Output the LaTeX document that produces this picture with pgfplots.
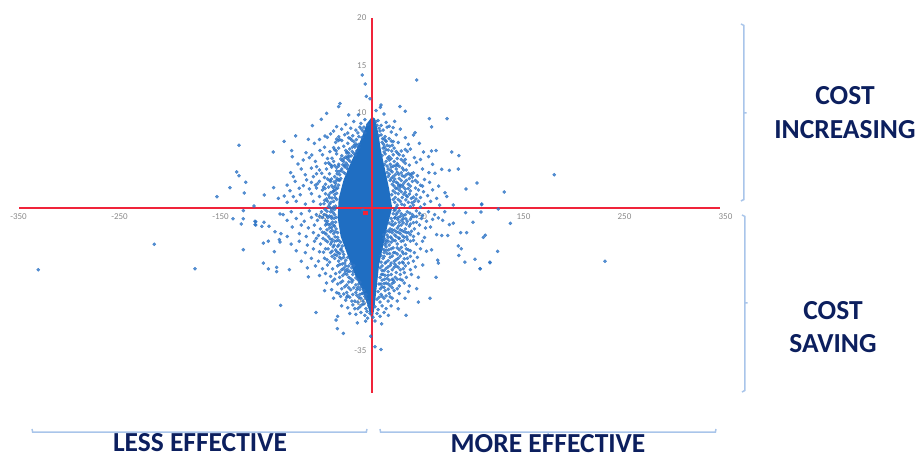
\documentclass[border=0pt]{standalone}
\usepackage{fontspec}
\setmainfont{Carlito}
\usepackage{pgfplots}
\pgfplotsset{compat=1.18}
\definecolor{dots}{HTML}{2F75C6}
\definecolor{core}{HTML}{1F6EC2}
\definecolor{brk}{HTML}{A9C5EA}
\definecolor{navy}{HTML}{0C1F5E}
\definecolor{redline}{HTML}{F0243A}
\definecolor{ticktxt}{HTML}{8A8A8A}
\begin{document}
\begin{tikzpicture}
\begin{axis}[
	name=ax,
	width=917pt, height=459pt, scale only axis,
	xmin=-368.3, xmax=539.6,
	ymin=-26.42, ymax=21.89,
	axis lines=center,
	axis line style={draw=none},
	tick style={draw=none},
	xtick={-350,-250,-150,-50,50,150,250,350},
	ytick={-15,-10,-5,5,10,15,20},
	yticklabels={-35,-25,-15,5,10,15,20},
	ticklabel style={font=\fontsize{9}{10}\selectfont, text=ticktxt},
	/pgf/number format/assume math mode=true,
	clip=false,
]
% solid centre of the cloud, where single points can't be told apart
\addplot[fill=core, draw=none] coordinates {
	(0,9.6)(3,9.4)(6,8)(9,6)(13,4)(17,2)(20,0)(15,-2)(11,-4)(7,-6)(5,-8)(3,-10)(1,-11.5)
	(-1,-11.5)(-5,-10)(-10,-8.5)(-17,-7)(-24,-5)(-31,-3)(-34,-1)(-33,1)(-28,3)(-20,5)(-11,7.2)(-5,8.9)
} -- cycle;
% single points
\addplot[only marks, mark=*, mark size=1.6pt, color=dots, mark options={draw=none, fill=dots, opacity=0.8}] coordinates {
	(-330.4,-6.5)(-215.5,-3.82)(-175.2,-6.39)(-131.7,6.6)(-134,3.79)(-131.7,3.4)(-125,2.7)(-140.6,2.14)(-126.4,1.58)(-153.5,1.19)
	(-116.8,0.21)(-127.4,-0.28)(-137.6,-1.13)(-127.4,-1.13)(-129.4,-1.68)(-115.1,-1.44)(-115.1,-1.79)(-127.4,-4.39)
	(180.5,3.5)(131,1.68)(108.6,0.35)(107.9,-0.42)(125,-0.1)(137,-1.61)(110.2,-3.09)(112.2,-2.87)(124.4,-4.56)(116.8,-5.76)(107.2,-6.39)(230.7,-5.61)
	(-9.6,14)(-6.6,13.05)(-5.6,11.75)(-2,11.5)(44.2,13.47)(8.9,10.84)(8.3,10.6)(-31.7,11)(-33,10.67)(27.7,10.67)(33,10.18)(4,10.25)
	(-44.9,9.96)(-23.1,9.79)(-13.5,9.79)(11.9,9.89)(-50.2,9.33)(56.8,9.4)(74.3,9.4)(22.4,9.12)(-59,8.67)(59,8.53)(-35,8.56)(-75.6,7.58)
	(21,8.46)(-87,7.02)(-63,7.23)(-46.5,7.58)(-44.2,7.44)(42.6,7.93)(41,7.68)(-97.7,5.89)(-79.5,6.04)(-78.9,5.4)(78.9,5.89)(86,5.5)
	(63.4,6.04)(59,6)(56,5.4)(-73.3,4.63)(-80.5,3.72)(-77.9,3.3)(-97.4,2.14)(-106.6,1.37)(-92.7,1.02)(-86.8,1.26)(-81.2,1.82)(-77.9,1.19)
	(-72,2.07)(-68,2.35)(-64.7,2.95)(-58,3.3)(-49.8,3.65)(-54.8,4.35)(-65.3,5.82)(-59.7,5.58)(-51.5,6.04)(-41.6,5.93)(-39.6,5.23)(-68,5.05)
	(76.6,3.96)(85.5,4.1)(69,4.07)(62.4,3.65)(56.4,3.72)(72.3,1.61)(93,2)(104,2.63)(108.6,0.42)(80.5,0.32)
	(-115.8,-1.4)(-115.8,-1.75)(-109,-1.93)(-107,-1.5)(-102,-1.93)(-91,-0.63)(-88,-0.7)(-96,-2.5)(-90.1,-2.7)(-102.6,-3.5)(-107.6,-3.7)
	(-91,-3.58)(-91.7,-3.33)(-96.7,-4.6)(-107.6,-5.8)(-102.6,-6.4)(-94.4,-6.25)(-94.4,-6.7)(-81.8,-6.5)(-63,-7.26)(-90.4,-10.25)(-55.4,-11)
	(-34,-11.4)(-35.6,-11.8)(-34.3,-12.7)(-28.4,-13.2)(-14.5,-12.1)(-6.3,-11.9)(-4.3,-11.6)(9.6,-12.2)(3,-11.9)(-1.3,-13.5)(3,-14.6)(8.9,-14.9)
	(16.2,-11.3)(33.7,-11.3)(57.4,-9.5)(45.9,-9.9)(26,-10.6)(32.7,-9.5)(44.2,-8.5)(63.4,-7.3)(45.9,-7.3)(50.2,-6)(65.7,-5.8)(65,-5.5)
	(102,-5.4)(116.8,-5.7)(107,-6.4)(92,-5.7)(86,-5)(85.5,-4)(88.4,-4.3)(87.8,-2.6)(93.7,-2.6)(76.6,-1.75)(80.5,-1.6)(100,-1.5)(92.7,-0.5)
	(65.7,-1.05)(69,-2.9)(64,-2.8)(59,-4.4)(54,-4.56)
	% busy ring round the centre, upper half
	(-18,9.1)(-11,8.9)(-7,9.3)(-4,8.8)(6,9.2)(9,8.7)(14,9)(17,8.6)(-26,8.8)(-21,8.4)
	(-30,8.3)(-16,8.2)(-12,8.5)(-9,8.1)(7,8.4)(11,8.2)(15,8.5)(19,8)(28,8.3)(-38,8.1)(-24,7.9)
	(-41,7.8)(-33,7.5)(-27,7.7)(-19,7.6)(-14,7.9)(-10,7.4)(9,7.7)(13,7.5)(17,7.3)(24,7.7)(33,7.4)(-52,7.2)
	(-57,6.8)(-36,6.9)(-30,7.1)(-24,6.8)(-18,7)(-13,6.7)(10,6.9)(14,7)(20,6.6)(26,6.9)(36,6.7)(47,6.8)
	(-47,6.4)(-33,6.3)(-28,6.5)(-22,6.2)(-17,6.4)(11,6.3)(16,6.1)(22,6.3)(29,6)(38,6.2)(51,5.9)
	(-62,5.3)(-49,5.6)(-44,5.2)(-35,5.7)(-30,5.5)(-25,5.8)(13,5.7)(17,5.4)(21,5.6)(25,5.2)(31,5.5)(42,5.3)(48,5.1)
	(-56,4.9)(-46,4.7)(-38,4.9)(-33,4.6)(-28,4.9)(-24,4.5)(14,4.9)(18,4.6)(22,4.9)(27,4.4)(33,4.7)(37,4.5)(44,4.8)(60,4.6)
	(-70,4.1)(-60,4.2)(-52,4)(-45,4.1)(-40,4.3)(-35,3.9)(-30,4.1)(16,4.1)(20,3.8)(24,4.1)(29,3.7)(34,4)(41,3.7)(50,4.1)
	(-66,3.5)(-55,3.6)(-47,3.2)(-42,3.6)(-37,3.3)(-32,3.5)(19,3.1)(23,3.5)(27,3.1)(32,3.3)(37,3.1)(45,3.4)(52,3)
	(-76,2.8)(-60,2.7)(-52,2.8)(-46,2.5)(-41,2.8)(-36,2.6)(-32,2.9)(20,2.5)(24,2.7)(28,2.4)(32,2.7)(36,2.5)(40,2.8)(48,2.4)(57,2.7)(66,2.3)
	(-84,2.4)(-62,2)(-55,2.1)(-49,1.9)(-43,2.2)(-38,1.8)(-34,2.1)(21,1.8)(25,2.1)(29,1.7)(33,2)(38,1.8)(43,2.1)(51,1.7)(60,1.9)
	(-71,1.4)(-60,1.5)(-52,1.2)(-46,1.5)(-42,1.1)(-37,1.4)(23,1.1)(26,1.5)(30,1.1)(34,1.3)(39,1)(44,1.4)(48,1.1)(55,1.3)(64,1)(74,1.2)
	(-84,0.6)(-75,0.7)(-66,0.4)(-58,0.7)(-51,0.4)(-47,0.8)(-42,0.4)(-38,0.7)(25,0.3)(28,0.7)(32,0.3)(36,0.6)(41,0.3)(46,0.7)(52,0.4)(58,0.7)(67,0.3)
	% busy ring, lower half
	(-80,-0.4)(-70,-0.6)(-62,-0.3)(-55,-0.7)(-50,-0.4)(-45,-0.8)(-41,-0.4)(-37,-0.7)(24,-0.7)(27,-0.3)(31,-0.8)(35,-0.4)(40,-0.7)(44,-0.3)(50,-0.8)(56,-0.4)(62,-0.7)(72,-0.4)
	(-84,-1.3)(-75,-1.1)(-67,-1.4)(-60,-1)(-54,-1.3)(-49,-1)(-44,-1.4)(-40,-1.1)(-36,-1.5)(20,-1.4)(23,-1)(27,-1.5)(31,-1.1)(35,-1.4)(39,-1)(44,-1.5)(49,-1.1)(54,-1.4)(60,-1.2)(70,-1.3)
	(-79,-2)(-70,-1.8)(-63,-2.1)(-57,-1.8)(-51,-2.2)(-46,-1.8)(-42,-2.1)(-38,-1.8)(18,-2.2)(21,-1.8)(25,-2.1)(29,-1.8)(33,-2.2)(37,-1.9)(42,-2.2)(47,-1.8)(53,-2.1)(58,-2)
	(-84,-3)(-72,-2.7)(-65,-3)(-58,-2.6)(-53,-2.9)(-47,-2.6)(-43,-3)(-38,-2.7)(-34,-3.1)(16,-3.1)(20,-2.6)(24,-3)(28,-2.7)(32,-3.1)(36,-2.6)(41,-3)(46,-2.7)(52,-3.1)(75,-2.9)
	(-80,-3.8)(-72,-3.5)(-64,-3.9)(-57,-3.5)(-51,-3.8)(-46,-3.4)(-41,-3.8)(-37,-3.5)(-33,-3.9)(13,-3.5)(17,-3.9)(21,-3.4)(25,-3.8)(29,-3.5)(33,-3.9)(38,-3.5)(44,-3.8)(50,-3.5)
	(-75,-4.5)(-66,-4.7)(-58,-4.3)(-52,-4.6)(-46,-4.3)(-41,-4.7)(-36,-4.4)(-32,-4.8)(12,-4.4)(15,-4.8)(19,-4.3)(23,-4.7)(27,-4.4)(31,-4.8)(36,-4.4)(42,-4.7)(48,-4.3)
	(-70,-5.6)(-60,-5.3)(-53,-5.6)(-47,-5.3)(-42,-5.7)(-37,-5.3)(-33,-5.6)(-28,-5.2)(11,-5.3)(14,-5.7)(18,-5.2)(22,-5.6)(26,-5.3)(30,-5.7)(35,-5.3)(41,-5.6)(45,-5.2)
	(-64,-6.3)(-56,-6.1)(-49,-6.4)(-44,-6)(-39,-6.4)(-34,-6.1)(-30,-6.5)(-26,-6.1)(8,-6.3)(12,-6.6)(16,-6.2)(20,-6.5)(24,-6.1)(28,-6.5)(33,-6.1)(38,-6.5)(43,-6.2)
	(-52,-7.1)(-46,-6.9)(-41,-7.2)(-36,-6.9)(-32,-7.3)(-27,-6.9)(-23,-7.3)(-19,-7)(8,-7.3)(11,-7)(15,-7.4)(19,-7)(23,-7.3)(28,-7)(34,-7.3)(39,-7)
	(-45,-7.9)(-39,-7.7)(-34,-8)(-29,-7.7)(-25,-8.1)(-20,-7.8)(-16,-8.1)(-12,-7.8)(7,-8)(10,-8.3)(14,-7.9)(18,-8.2)(22,-7.8)(27,-8.2)(32,-7.9)(37,-8.2)
	(-47,-8.7)(-40,-8.6)(-35,-8.9)(-30,-8.5)(-25,-8.9)(-21,-8.6)(-16,-8.9)(-12,-8.6)(6,-8.8)(9,-9.1)(13,-8.7)(17,-9)(22,-8.7)(27,-9)(36,-8.8)
	(-38,-9.5)(-31,-9.3)(-26,-9.7)(-22,-9.4)(-17,-9.8)(-13,-9.4)(-9,-9.8)(-6,-9.5)(5,-9.6)(8,-9.9)(12,-9.5)(16,-9.8)(20,-9.5)(25,-9.8)
	(-30,-10.3)(-24,-10.5)(-19,-10.2)(-14,-10.6)(-10,-10.2)(-6,-10.6)(-3,-10.3)(3,-10.4)(6,-10.7)(10,-10.3)(14,-10.6)(19,-10.3)
	(-22,-11.1)(-16,-11.2)(-11,-11)(-7,-11.3)(-2,-11.1)(1,-11.5)(5,-11.1)(8,-11.4)(12,-11)
	% short clumps between the rows, thick next to the solid centre
	(-35,7.25)(-33.5,7.1)(-32,7.2)(-23,7.4)(-21.5,7.3)(-20,7.15)(-16,6.75)(-14.7,6.55)(-13.2,6.35)(12,7.25)(13.5,7.1)(19,7.05)(21,7)(-38,6.35)(-37,6.15)(-35.5,6)
	(-26,6.05)(-24.5,5.9)(-23,5.75)(-19.5,5.95)(-18,5.75)(-16.5,5.6)(12,5.9)(14,6.15)(24,5.95)(25.5,5.75)(27,5.6)(33,6.15)(35,5.95)(-43,4.75)(-41.5,4.6)(-40,4.45)
	(-31,5.15)(-29.5,5)(-28,5.2)(-26,5.35)(-24.5,5.2)(-23,5.05)(-21.5,4.9)(15.5,5.25)(17,5.05)(19,5.2)(23,4.45)(25,4.65)(29,5.1)(31,4.9)(33,5.1)
	(-37,4.45)(-35,4.25)(-33,4.4)(-27,4.35)(-25,4.2)(-23.5,4.05)(-28,3.75)(-26.5,3.6)(-44,3.05)(-42,2.9)(-40,3.05)(-34.5,3.1)(-33,2.95)(-31,3.1)(15,3.75)(17,3.55)
	(18.5,3.95)(21,3.3)(22.5,3.05)(25,3.75)(26.5,3.55)(30,4.2)(31.5,4)(36,3.65)(38,3.45)(40,3.25)(43,2.9)(45,2.7)(-56,2.4)(-54,2.55)(-48,2.2)(-46.5,2.05)
	(-40,2.35)(-38.5,2.15)(-36.5,2.3)(-35,1.55)(-36.5,1.1)(-35,0.9)(-39.5,1.05)(-41,1.6)(-43,1.35)(-45,0.95)(-47.5,0.45)(22,2.3)(23.5,2.05)(26.5,2.4)(28,2.2)
	(30.5,2.45)(31.5,1.45)(33,1.65)(36,2.05)(37,1.45)(41,1.15)(42,0.7)(22.5,0.6)(23,1.6)(24,0.05)(26,0.9)(29.5,0.4)(33.5,0.85)(38,0.15)(39.5,0.55)(43.5,0.95)(48,0.1)
	(-36,0.2)(-37,-0.15)(-39.5,-0.2)(-43,0.15)(-44.5,-0.35)(-46.5,-0.15)(-35.5,-1)(-37.5,-1.1)(-38.5,-0.5)(-42,-0.85)(-46,-1.35)(-47.5,-0.7)(-52,-0.9)(-39,-1.5)(-41,-1.7)(-43,-1.75)
	(22,-0.25)(22.5,-1.05)(25,-0.5)(25.5,-1.2)(29,-0.6)(29.5,-1.3)(33,-0.7)(33.5,-1.15)(37.5,-0.55)(38,-1.2)(41.5,-0.9)(19,-1.1)(19.5,-1.75)(23,-1.6)(26.5,-1.9)(31,-1.55)
	(-35.5,-2.2)(-36.5,-2.5)(-39.5,-2.35)(-41,-2.5)(-44.5,-2.3)(-45.5,-2.75)(-49,-2.55)(-35,-3.45)(-36.5,-3.05)(-39.5,-3.3)(-41.5,-3.25)(-44,-3.55)(-48.5,-3.2)(-55,-3.2)(-29.5,-4)(-31,-3.6)
	(14,-2.5)(15,-2.85)(17.5,-2.5)(18.5,-3.05)(22,-2.35)(22.5,-2.85)(26,-2.55)(26.5,-3.15)(30,-2.4)(30.5,-2.95)(34,-2.6)(34.5,-3.05)(39,-2.45)(12,-3.2)(14.5,-3.4)(19,-3.6)
	(-29,-4.6)(-30.5,-4.3)(-34,-4.05)(-35,-4.6)(-38.5,-4.1)(-39.5,-4.55)(-43.5,-4.3)(-48,-4.65)(-26,-5.5)(-24,-5.2)(-30.5,-5.35)(-35,-5)(-39.5,-5.1)(-44.5,-5.45)(-23,-6.1)(-21,-5.85)
	(10,-4.3)(12.5,-3.85)(14,-4.1)(16.5,-4.4)(21,-4.2)(25,-4.2)(29,-4.15)(34,-4.3)(9,-5)(12,-5.1)(16,-5.55)(20,-5.05)(24,-5.45)(28,-5.05)(32,-5.35)(38,-5.1)
	(-28,-6.35)(-24.5,-6.45)(-20,-6.3)(-18,-6.05)(-32,-6.75)(-29,-7.1)(-25,-7)(-21,-7.45)(-16,-7.35)(-14,-7.55)(-37,-7.5)(-31,-7.85)(-27,-8.3)(-23,-8.4)(-18,-8.4)(-14,-8.35)
	(10,-6.1)(14,-6.35)(18,-6.05)(22,-6.25)(26,-6.25)(31,-6.4)(10,-7.6)(13,-7.1)(17,-7.6)(21,-7.6)(25,-7.5)(30,-7.6)(8.5,-8.5)(12,-8.35)(16,-8.55)(20,-8.4)(25,-8.5)
	(-10,-9)(-8,-8.7)(-7,-9.3)(-15,-9.2)(-19,-9.1)(-24,-9.25)(-28,-9.05)(-11,-9.5)(7,-9.4)(10,-9.3)(14,-9.25)(18,-9.35)
	% more of the same hugging the solid centre
	(-8,8.5)(-10.5,8.3)(-7,7.9)(-13,7.5)(-15.5,7.2)(-17.5,6.6)(-19.5,6.4)(-15,6)(-20.5,5.5)(-22.5,5.4)(-24,5.45)(-25.5,4.7)(-27,4.5)(-29,4.55)(-30.5,3.9)(-32.5,3.85)(-34.5,3.6)
	(-33,2.4)(-35,2.9)(-37.5,2.75)(-35.5,2)(-37,1.85)(-39,1.7)(-40.5,0.6)(-44,0.7)(-38,0.1)(-41,0)(-40,-0.9)(-43.5,-1)(-45,-1.65)(-37,-1.9)(-40,-2.05)(-34,-2.6)
	(-33,-3.4)(-37.5,-3.9)(-40,-3.6)(-31,-4.4)(-33.5,-4.7)(-37,-4.9)(-28,-4.9)(-32,-5.2)(-27,-5.8)(-29.5,-5.9)(-32,-5.95)(-24,-6.7)(-26.5,-6.6)(-22,-6.65)(-19,-7.6)(-23,-7.8)
	(-19,-6.7)(-13,-8)(-11,-8.3)(-15,-8.6)(-9,-9)(-12,-9.1)(-6,-9.1)(-4,-9.9)(-8,-10.1)(-5,-10.9)(-12,-10.4)(-17,-10.6)(-14,-9.9)(-20,-9.8)(-25,-9.4)(-33,-9)
	(4,9.1)(5,8.7)(8,8.1)(7,7.6)(10.5,7.3)(11.5,6.7)(12.5,6.4)(10,5.5)(15,6.6)(17.5,6.5)(19.5,6)(15,4.4)(19,4.3)(21,4.4)(25,4.5)(12.5,4.6)(16,3.3)
	(18,2.9)(21.5,2.8)(25.5,2.6)(29,2.9)(34,2.9)(30,3.4)(34,3.5)(39,3.6)(19.5,1.4)(21,0.9)(27,1.9)(31,2.2)(35,1.2)(38,2.3)(46,1.9)(50,2.3)
	(21,-0.6)(23,-0.2)(26,-1)(28,-0.9)(34,-1.7)(38,-1.7)(41,-1.55)(44,-0.9)(47,-0.55)(17,-1.6)(16,-2.4)(20,-2.3)(24,-2.5)(28,-2.3)(32,-2.5)(38,-2.8)
	(11.5,-2.8)(14,-3.7)(16,-3.5)(19.5,-3.2)(23,-3.45)(27,-3.2)(31,-3.45)(35,-3.3)(41,-3.4)(12,-4.7)(14,-4.5)(17.5,-4.8)(21.5,-4.7)(25,-4.85)(30,-4.6)(33.5,-4.8)(38,-4.5)
	(9,-5.7)(10,-6.6)(13,-5.8)(16,-6.7)(19,-5.8)(22.5,-5.9)(27,-5.8)(31,-5.8)(36,-5.8)(9.5,-7)(12.5,-7.5)(16,-7.1)(20,-7.5)(24,-6.8)(28,-7.5)(32,-6.8)(9,-8)(12,-7.95)(16,-8)(20,-7.95)
	(-9,-0.2)
};
% small red dot just below the crossing
\addplot[only marks, mark=square*, mark size=1.8pt, color=redline] coordinates {(-6.9,-0.5)};
% axis lines
\addplot[redline, line width=2.2pt] coordinates {(-349,0.03)(345,0.03)};
\addplot[redline, line width=2.2pt] coordinates {(0,20)(0,-19.5)};
% brackets
\addplot[brk, line width=1.5pt] coordinates {(-336.6,-23.26)(-336,-23.58)(-170.3,-23.58)(-170.3,-24.1)(-170.3,-23.58)(-5.6,-23.58)(-5,-23.26)};
\addplot[brk, line width=1.5pt] coordinates {(7.9,-23.26)(8.5,-23.58)(174.3,-23.58)(174.3,-24.1)(174.3,-23.58)(340,-23.58)(340.6,-23.26)};
\addplot[brk, line width=1.5pt] coordinates {(365.3,19.37)(368.3,19.2)(368.3,10)(370.8,10)(368.3,10)(368.3,0.9)(365.3,0.74)};
\addplot[brk, line width=1.5pt] coordinates {(366.3,-0.74)(369.3,-0.9)(369.3,-10)(371.8,-10)(369.3,-10)(369.3,-19.2)(366.3,-19.37)};
% side and bottom captions
\node[font=\fontsize{27.5}{30}\selectfont\bfseries, text=navy] at (axis cs:468.3,11.79) {COST};
\node[font=\fontsize{27.5}{30}\selectfont\bfseries, text=navy] at (axis cs:468.3,8.3) {INCREASING};
\node[font=\fontsize{27.5}{30}\selectfont\bfseries, text=navy] at (axis cs:456.4,-10.84) {COST};
\node[font=\fontsize{27.5}{30}\selectfont\bfseries, text=navy] at (axis cs:456.4,-14.3) {SAVING};
\node[anchor=base, inner sep=0pt, font=\fontsize{27.5}{30}\selectfont\bfseries, text=navy] at (axis cs:-170.3,-25.58) {LESS EFFECTIVE};
\node[anchor=base, inner sep=0pt, font=\fontsize{27.5}{30}\selectfont\bfseries, text=navy] at (axis cs:174.3,-25.74) {MORE EFFECTIVE};
\end{axis}
\pgfresetboundingbox
\path[use as bounding box] (ax.south west) rectangle (ax.north east);
\end{tikzpicture}
\end{document}
